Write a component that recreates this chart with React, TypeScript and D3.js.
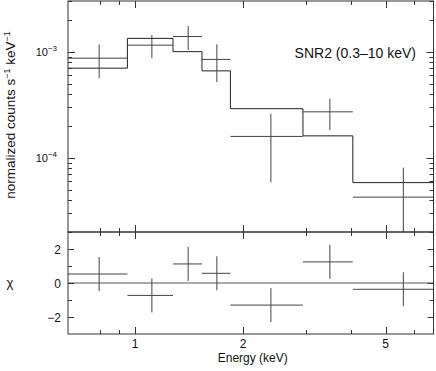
import { useEffect, useRef } from 'react';
import * as d3 from 'd3';

// ==========================================
// DATA
// ==========================================
const binLo = [0.636, 0.952, 1.276, 1.537, 1.845, 2.94, 4.05];
const binHi = [0.952, 1.276, 1.537, 1.845, 2.94, 4.05, 7.156];
const counts = [8.68e-4, 1.151e-3, 1.389e-3, 8.45e-4, 1.59e-4, 2.71e-4, 4.26e-5];
const countErr = [3.05e-4, 2.83e-4, 3.52e-4, 3.28e-4, 1.0e-4, 0.89e-4, 3.82e-5];
const model = [6.99e-4, 1.334e-3, 1.0e-3, 6.59e-4, 2.9e-4, 1.61e-4, 5.84e-5];
const chi = [0.53, -0.73, 1.12, 0.57, -1.3, 1.24, -0.37];

const xMajorTicks = [1, 2, 5];
const xMinorTicks = [0.8, 0.9, 3, 4, 6];
const yMajorTicks = [1e-4, 1e-3];
const yMinorTicks = [
  2e-5, 3e-5, 4e-5, 5e-5, 6e-5, 7e-5, 8e-5, 9e-5,
  2e-4, 3e-4, 4e-4, 5e-4, 6e-4, 7e-4, 8e-4, 9e-4,
  2e-3, 3e-3,
];
const yMajorLabels = ['−4', '−3'];
const chiMajorTicks = [-2, 0, 2];
const chiMinorTicks = [-1, 1];

const FONT = '"Liberation Sans", Arial, Helvetica, sans-serif';
const INK = '#444';

const App = () => {
  const svgRef = useRef<SVGSVGElement>(null);

  useEffect(() => {
    const width = 436;
    const height = 371;
    const left = 68;
    const right = 433.5;
    const top = 1;
    const mid = 232;
    const bottom = 334;

    const svg = d3.select(svgRef.current);
    svg.selectAll('*').remove();
    svg.attr('width', width).attr('height', height);

    // ==========================================
    // SCALES
    // ==========================================
    const x = d3.scaleLog().domain([0.65, 6.8]).range([left, right]);
    const y = d3.scaleLog().domain([2e-5, 3e-3]).range([mid, top]);
    const yr = d3.scaleLinear().domain([-3, 3]).range([bottom, mid]);

    const defs = svg.append('defs');
    defs.append('clipPath').attr('id', 'clipTop')
      .append('rect').attr('x', left).attr('y', top)
      .attr('width', right - left).attr('height', mid - top);
    defs.append('clipPath').attr('id', 'clipBot')
      .append('rect').attr('x', left).attr('y', mid)
      .attr('width', right - left).attr('height', bottom - mid);

    const idx = d3.range(binLo.length);
    const centre = (i: number) => (binLo[i] + binHi[i]) / 2;

    // ==========================================
    // MAIN PANEL
    // ==========================================
    const gTop = svg.append('g').attr('clip-path', 'url(#clipTop)')
      .attr('fill', 'none').attr('stroke', INK).attr('stroke-width', 1);

    // model step
    const stepPts: [number, number][] = [];
    idx.forEach((i) => {
      stepPts.push([x(binLo[i]), y(model[i])]);
      stepPts.push([x(binHi[i]), y(model[i])]);
    });
    gTop.append('path').attr('stroke', '#222')
      .attr('d', d3.line()(stepPts));

    // data crosses
    idx.forEach((i) => {
      gTop.append('line')
        .attr('x1', x(binLo[i])).attr('x2', x(binHi[i]))
        .attr('y1', y(counts[i])).attr('y2', y(counts[i]));
      const lo = Math.max(counts[i] - countErr[i], 1e-6);
      gTop.append('line')
        .attr('x1', x(centre(i))).attr('x2', x(centre(i)))
        .attr('y1', y(lo)).attr('y2', y(counts[i] + countErr[i]));
    });

    // ==========================================
    // RESIDUAL PANEL
    // ==========================================
    const gBot = svg.append('g').attr('clip-path', 'url(#clipBot)')
      .attr('fill', 'none').attr('stroke', INK).attr('stroke-width', 1);

    gBot.append('line')
      .attr('x1', left).attr('x2', right)
      .attr('y1', yr(0)).attr('y2', yr(0))
      .attr('stroke', '#555');

    idx.forEach((i) => {
      gBot.append('line')
        .attr('x1', x(binLo[i])).attr('x2', x(binHi[i]))
        .attr('y1', yr(chi[i])).attr('y2', yr(chi[i]));
      gBot.append('line')
        .attr('x1', x(centre(i))).attr('x2', x(centre(i)))
        .attr('y1', yr(chi[i] - 1)).attr('y2', yr(chi[i] + 1));
    });

    // ==========================================
    // FRAMES + TICKS
    // ==========================================
    const axes = svg.append('g').attr('stroke', '#333').attr('fill', 'none');
    axes.append('rect').attr('x', left).attr('y', top)
      .attr('width', right - left).attr('height', mid - top);
    axes.append('rect').attr('x', left).attr('y', mid)
      .attr('width', right - left).attr('height', bottom - mid);

    const xTicks = [
      ...xMajorTicks.map((v) => ({ v, len: 7 })),
      ...xMinorTicks.map((v) => ({ v, len: 4 })),
    ];
    [top, mid, bottom].forEach((edge) => {
      xTicks.forEach((t) => {
        const px = Math.round(x(t.v)) + 0.5;
        if (edge !== top) {
          axes.append('line').attr('x1', px).attr('x2', px)
            .attr('y1', edge).attr('y2', edge - t.len);
        }
        if (edge !== bottom) {
          axes.append('line').attr('x1', px).attr('x2', px)
            .attr('y1', edge).attr('y2', edge + t.len);
        }
      });
    });

    const yTicks = [
      ...yMajorTicks.map((v) => ({ v, len: 7 })),
      ...yMinorTicks.map((v) => ({ v, len: 4 })),
    ];
    yTicks.forEach((t) => {
      const py = Math.round(y(t.v)) + 0.5;
      axes.append('line').attr('x1', left).attr('x2', left + t.len)
        .attr('y1', py).attr('y2', py);
      axes.append('line').attr('x1', right).attr('x2', right - t.len)
        .attr('y1', py).attr('y2', py);
    });

    const rTicks = [
      ...chiMajorTicks.map((v) => ({ v, len: 6 })),
      ...chiMinorTicks.map((v) => ({ v, len: 4 })),
    ];
    rTicks.forEach((t) => {
      const py = Math.round(yr(t.v)) + 0.5;
      axes.append('line').attr('x1', left).attr('x2', left + t.len)
        .attr('y1', py).attr('y2', py);
      axes.append('line').attr('x1', right).attr('x2', right - t.len)
        .attr('y1', py).attr('y2', py);
    });

    // ==========================================
    // LABELS
    // ==========================================
    const txt = svg.append('g').attr('font-family', FONT).attr('fill', '#111');

    yMajorTicks.forEach((v, i) => {
      const t = txt.append('text')
        .attr('x', left - 11).attr('y', y(v) + 4)
        .attr('text-anchor', 'end').attr('font-size', 11);
      t.append('tspan').text('10');
      t.append('tspan').attr('dy', -5).attr('font-size', 8).text(yMajorLabels[i]);
    });

    chiMajorTicks.forEach((v) => {
      txt.append('text')
        .attr('x', left - 7).attr('y', yr(v) + 4.5)
        .attr('text-anchor', 'end').attr('font-size', 12)
        .text(d3.format('')(v).replace('-', '−'));
    });

    xMajorTicks.forEach((v) => {
      txt.append('text')
        .attr('x', x(v)).attr('y', 348)
        .attr('text-anchor', 'middle').attr('font-size', 12)
        .text(String(v));
    });

    txt.append('text')
      .attr('x', (left + right) / 2 + 2).attr('y', 362)
      .attr('text-anchor', 'middle').attr('font-size', 12)
      .text('Energy (keV)');

    txt.append('text')
      .attr('x', 10).attr('y', 287)
      .attr('text-anchor', 'middle').attr('font-size', 13)
      .text('χ');

    const yl = txt.append('text')
      .attr('transform', 'translate(15,115) rotate(-90)')
      .attr('text-anchor', 'middle').attr('font-size', 13.5);
    yl.append('tspan').text('normalized counts s');
    yl.append('tspan').attr('dy', -5).attr('font-size', 9).text('−1');
    yl.append('tspan').attr('dy', 5).text(' keV');
    yl.append('tspan').attr('dy', -5).attr('font-size', 9).text('−1');

    txt.append('text')
      .attr('x', 416).attr('y', 58)
      .attr('text-anchor', 'end').attr('font-size', 14)
      .text('SNR2 (0.3–10 keV)');
  }, []);

  return (
    <svg
      ref={svgRef}
      style={{ position: 'absolute', left: 0, top: 0, display: 'block', background: '#fff' }}
    ></svg>
  );
};

export default App;
